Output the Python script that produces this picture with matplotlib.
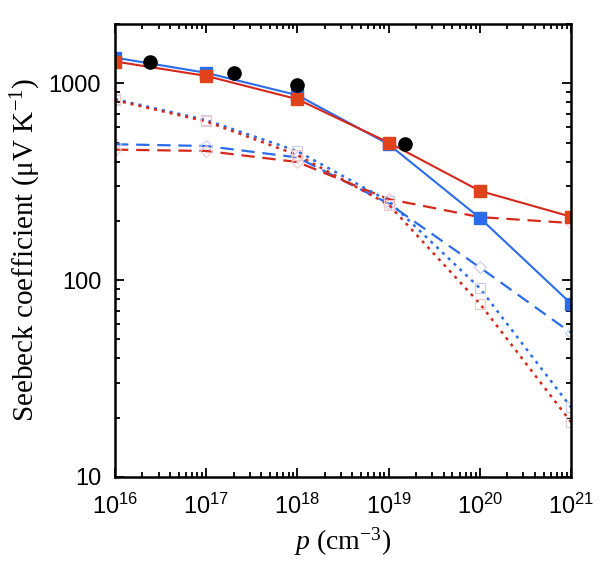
import matplotlib
matplotlib.use('Agg')
import matplotlib.pyplot as plt
from matplotlib.ticker import LogLocator, NullFormatter, FixedLocator, FixedFormatter

plt.rcParams['font.family'] = 'Liberation Sans'
plt.rcParams['mathtext.fontset'] = 'custom'
plt.rcParams['mathtext.rm'] = 'Liberation Serif'
plt.rcParams['mathtext.it'] = 'Liberation Serif:italic'
plt.rcParams['mathtext.sf'] = 'Liberation Sans'

# Carrier concentration (cm^-3)
p = [1e16, 1e17, 1e18, 1e19, 1e20, 1e21]

# Total Seebeck (solid, filled squares)
S_blue_tot = [1350, 1130, 870, 490, 207, 76]
S_red_tot = [1290, 1090, 830, 500, 284, 210]

# dotted curves (open squares)
S_blue_dot = [830, 650, 452, 252, 91, 22.6]
S_red_dot = [820, 640, 432, 242, 76, 19]

# dashed curves (open diamonds)
S_blue_dash = [490, 480, 420, 245, 116, 54]
S_red_dash = [460, 453, 398, 258, 209, 195]

# experiment (black circles)
p_exp = [2.4e16, 2.0e17, 1.0e18, 1.5e19]
S_exp = [1280, 1130, 980, 490]

blue = '#2B6DE8'
red = '#D6281A'
red_mk = '#E0421A'
blue_open = '#C9CBF2'
red_open = '#F3C6C6'

fig = plt.figure(figsize=(6.0, 5.65), dpi=100)
ax = fig.add_axes([0.1917, 0.1558, 0.76, 0.8017])

# dashed
ax.plot(p, S_blue_dash, color=blue, lw=1.6, dashes=(6, 3.5),
        marker='D', ms=6, mfc='none', mec=blue_open, mew=0.8)
ax.plot(p, S_red_dash, color=red, lw=1.6, dashes=(6, 3.5),
        marker='D', ms=6, mfc='none', mec=red_open, mew=0.8)
# dotted
ax.plot(p, S_blue_dot, color=blue, lw=1.8, dashes=(1.2, 2.0),
        marker='s', ms=7, mfc='none', mec=blue_open, mew=0.8)
ax.plot(p, S_red_dot, color=red, lw=1.8, dashes=(1.2, 2.0),
        marker='s', ms=7, mfc='none', mec=red_open, mew=0.8)
# solid
ax.plot(p, S_blue_tot, color=blue, lw=1.5, marker='s', ms=8, mfc=blue, mec=blue)
ax.plot(p, S_red_tot, color=red, lw=1.5, marker='s', ms=8, mfc=red_mk, mec=red_mk)
# experiment
ax.plot(p_exp, S_exp, 'o', color='black', ms=9.5, zorder=5, clip_on=False)

ax.set_xscale('log')
ax.set_yscale('log')
ax.set_xlim(1e16, 1e21)
ax.set_ylim(10, 2000)

xt = [1e16, 1e17, 1e18, 1e19, 1e20, 1e21]
ax.xaxis.set_major_locator(FixedLocator(xt))
ax.xaxis.set_major_formatter(FixedFormatter([r'$\mathsf{10^{%d}}$' % k for k in range(16, 22)]))
ax.xaxis.set_minor_locator(LogLocator(base=10, subs=range(2, 10), numticks=20))
ax.xaxis.set_minor_formatter(NullFormatter())
ax.yaxis.set_major_locator(FixedLocator([10, 100, 1000]))
ax.yaxis.set_major_formatter(FixedFormatter(['10', '100', '1000']))
ax.yaxis.set_minor_locator(LogLocator(base=10, subs=range(2, 10), numticks=20))
ax.yaxis.set_minor_formatter(NullFormatter())

ax.tick_params(which='both', direction='in', top=True, right=True, width=1.3)
ax.tick_params(which='major', length=6.5)
ax.tick_params(which='minor', length=3.5)
ax.tick_params(axis='x', which='major', labelsize=17, pad=12)
ax.tick_params(axis='y', which='major', labelsize=17, pad=10)
for s in ax.spines.values():
    s.set_linewidth(1.8)

ax.set_ylabel('Seebeck coefficient (\u03bcV K$^{\\mathregular{-1}}$)',
              family='Liberation Serif', fontsize=21, labelpad=4)
ax.set_xlabel(r'$p$ (cm$^{\mathregular{-3}}$)', family='Liberation Serif',
              fontsize=20, labelpad=5)

fig.savefig('out.png', dpi=100)
